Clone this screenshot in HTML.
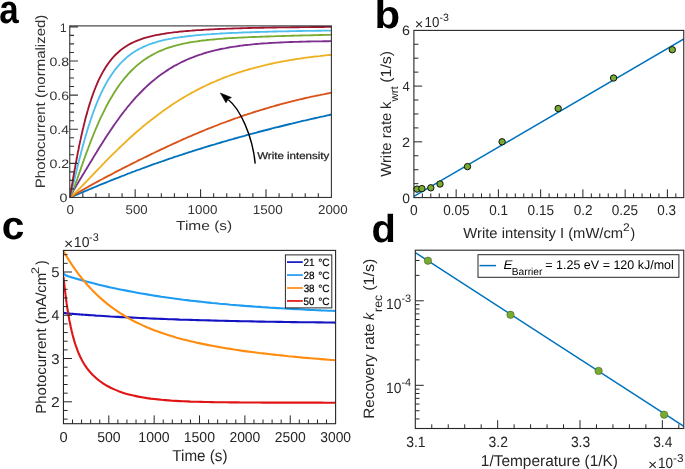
<!DOCTYPE html>
<html><head><meta charset="utf-8"><title>Figure</title><style>
html,body{margin:0;padding:0;background:#fff;overflow:hidden;}
#fig{width:685px;height:469px;will-change:transform;}
svg{display:block;}
text{font-family:"Liberation Sans",sans-serif;text-rendering:geometricPrecision;}
</style></head><body>
<div id="fig">
<svg width="685" height="469" viewBox="0 0 685 469">
<defs>
<clipPath id="clipa"><rect x="69.75" y="25.9" width="261.65" height="171.55"/></clipPath>
<clipPath id="clipb"><rect x="413.9" y="30.4" width="269.85" height="167.2"/></clipPath>
<clipPath id="clipc"><rect x="63.45" y="250.4" width="272.15" height="173.3"/></clipPath>
<clipPath id="clipd"><rect x="415.3" y="250.2" width="268.45" height="178.3"/></clipPath>
</defs>
<rect width="685" height="469" fill="#fff"/>
<g clip-path="url(#clipa)">
<path d="M69.8,197.4 L70.2,197.3 L70.6,197.1 L71.1,197.0 L71.5,196.8 L71.9,196.6 L72.4,196.4 L72.8,196.3 L73.2,196.1 L73.7,195.9 L74.1,195.7 L74.5,195.5 L75.0,195.4 L75.4,195.2 L75.9,195.0 L76.3,194.8 L76.7,194.6 L77.2,194.5 L77.6,194.3 L78.0,194.1 L78.5,193.9 L78.9,193.7 L79.3,193.6 L79.8,193.4 L80.2,193.2 L80.7,193.0 L81.1,192.8 L81.5,192.6 L82.0,192.5 L82.4,192.3 L82.8,192.1 L83.3,191.9 L83.7,191.7 L84.1,191.5 L84.6,191.4 L85.0,191.2 L85.4,191.0 L85.9,190.8 L86.3,190.6 L86.8,190.4 L87.2,190.3 L87.6,190.1 L88.1,189.9 L88.5,189.7 L88.9,189.5 L89.4,189.3 L89.8,189.2 L90.2,189.0 L90.7,188.8 L91.1,188.6 L91.6,188.4 L92.0,188.3 L92.4,188.1 L92.9,187.9 L93.3,187.7 L93.7,187.5 L94.2,187.3 L94.6,187.2 L95.0,187.0 L95.5,186.8 L95.9,186.6 L96.6,186.4 L98.5,185.5 L100.5,184.7 L102.5,183.9 L104.5,183.1 L106.4,182.3 L108.4,181.5 L110.4,180.7 L112.4,179.9 L114.3,179.1 L116.3,178.3 L118.3,177.6 L120.2,176.8 L122.2,176.0 L124.2,175.3 L126.2,174.5 L128.1,173.7 L130.1,173.0 L132.1,172.2 L134.1,171.5 L136.0,170.7 L138.0,170.0 L140.0,169.3 L142.0,168.5 L143.9,167.8 L145.9,167.1 L147.9,166.4 L149.9,165.7 L151.8,164.9 L153.8,164.2 L155.8,163.5 L157.7,162.8 L159.7,162.2 L161.7,161.5 L163.7,160.8 L165.6,160.1 L167.6,159.4 L169.6,158.7 L171.6,158.1 L173.5,157.4 L175.5,156.7 L177.5,156.1 L179.5,155.4 L181.4,154.8 L183.4,154.1 L185.4,153.5 L187.3,152.8 L189.3,152.2 L191.3,151.6 L193.3,150.9 L195.2,150.3 L197.2,149.7 L199.2,149.1 L201.2,148.5 L203.1,147.9 L205.1,147.2 L207.1,146.6 L209.1,146.0 L211.0,145.4 L213.0,144.8 L215.0,144.3 L216.9,143.7 L218.9,143.1 L220.9,142.5 L222.9,141.9 L224.8,141.3 L226.8,140.8 L228.8,140.2 L230.8,139.6 L232.7,139.1 L234.7,138.5 L236.7,138.0 L238.7,137.4 L240.6,136.9 L242.6,136.3 L244.6,135.8 L246.5,135.2 L248.5,134.7 L250.5,134.1 L252.5,133.6 L254.4,133.1 L256.4,132.6 L258.4,132.0 L260.4,131.5 L262.3,131.0 L264.3,130.5 L266.3,130.0 L268.3,129.5 L270.2,129.0 L272.2,128.4 L274.2,127.9 L276.1,127.4 L278.1,127.0 L280.1,126.5 L282.1,126.0 L284.0,125.5 L286.0,125.0 L288.0,124.5 L290.0,124.0 L291.9,123.6 L293.9,123.1 L295.9,122.6 L297.9,122.1 L299.8,121.7 L301.8,121.2 L303.8,120.7 L305.7,120.3 L307.7,119.8 L309.7,119.4 L311.7,118.9 L313.6,118.5 L315.6,118.0 L317.6,117.6 L319.6,117.1 L321.5,116.7 L323.5,116.3 L325.5,115.8 L327.5,115.4 L329.4,115.0 L331.4,114.5" fill="none" stroke="#0072BD" stroke-width="1.85" stroke-linejoin="round"/>
<path d="M69.8,197.4 L70.2,197.2 L70.6,197.0 L71.1,196.7 L71.5,196.5 L71.9,196.2 L72.4,196.0 L72.8,195.7 L73.2,195.5 L73.7,195.2 L74.1,195.0 L74.5,194.7 L75.0,194.4 L75.4,194.2 L75.9,193.9 L76.3,193.7 L76.7,193.4 L77.2,193.2 L77.6,192.9 L78.0,192.6 L78.5,192.4 L78.9,192.1 L79.3,191.9 L79.8,191.6 L80.2,191.4 L80.7,191.1 L81.1,190.8 L81.5,190.6 L82.0,190.3 L82.4,190.1 L82.8,189.8 L83.3,189.6 L83.7,189.3 L84.1,189.1 L84.6,188.8 L85.0,188.6 L85.4,188.3 L85.9,188.1 L86.3,187.8 L86.8,187.6 L87.2,187.3 L87.6,187.1 L88.1,186.9 L88.5,186.6 L88.9,186.4 L89.4,186.1 L89.8,185.9 L90.2,185.6 L90.7,185.4 L91.1,185.1 L91.6,184.9 L92.0,184.7 L92.4,184.4 L92.9,184.2 L93.3,183.9 L93.7,183.7 L94.2,183.5 L94.6,183.2 L95.0,183.0 L95.5,182.7 L95.9,182.5 L96.6,182.1 L98.5,181.1 L100.5,180.0 L102.5,179.0 L104.5,177.9 L106.4,176.9 L108.4,175.8 L110.4,174.8 L112.4,173.8 L114.3,172.7 L116.3,171.7 L118.3,170.7 L120.2,169.7 L122.2,168.7 L124.2,167.7 L126.2,166.7 L128.1,165.7 L130.1,164.7 L132.1,163.7 L134.1,162.7 L136.0,161.7 L138.0,160.7 L140.0,159.7 L142.0,158.8 L143.9,157.8 L145.9,156.8 L147.9,155.8 L149.9,154.9 L151.8,153.9 L153.8,153.0 L155.8,152.0 L157.7,151.1 L159.7,150.1 L161.7,149.2 L163.7,148.3 L165.6,147.4 L167.6,146.4 L169.6,145.5 L171.6,144.6 L173.5,143.7 L175.5,142.8 L177.5,141.9 L179.5,141.0 L181.4,140.1 L183.4,139.2 L185.4,138.4 L187.3,137.5 L189.3,136.6 L191.3,135.8 L193.3,134.9 L195.2,134.1 L197.2,133.3 L199.2,132.4 L201.2,131.6 L203.1,130.8 L205.1,130.0 L207.1,129.2 L209.1,128.4 L211.0,127.6 L213.0,126.8 L215.0,126.0 L216.9,125.3 L218.9,124.5 L220.9,123.7 L222.9,123.0 L224.8,122.3 L226.8,121.5 L228.8,120.8 L230.8,120.1 L232.7,119.4 L234.7,118.7 L236.7,118.0 L238.7,117.3 L240.6,116.6 L242.6,115.9 L244.6,115.2 L246.5,114.6 L248.5,113.9 L250.5,113.3 L252.5,112.6 L254.4,112.0 L256.4,111.4 L258.4,110.8 L260.4,110.2 L262.3,109.6 L264.3,109.0 L266.3,108.4 L268.3,107.8 L270.2,107.2 L272.2,106.6 L274.2,106.1 L276.1,105.5 L278.1,105.0 L280.1,104.4 L282.1,103.9 L284.0,103.4 L286.0,102.9 L288.0,102.4 L290.0,101.9 L291.9,101.4 L293.9,100.9 L295.9,100.4 L297.9,99.9 L299.8,99.4 L301.8,99.0 L303.8,98.5 L305.7,98.0 L307.7,97.6 L309.7,97.2 L311.7,96.7 L313.6,96.3 L315.6,95.9 L317.6,95.5 L319.6,95.1 L321.5,94.6 L323.5,94.3 L325.5,93.9 L327.5,93.5 L329.4,93.1 L331.4,92.7" fill="none" stroke="#D95319" stroke-width="1.85" stroke-linejoin="round"/>
<path d="M69.8,197.4 L70.2,197.2 L70.6,196.9 L71.1,196.5 L71.5,196.2 L71.9,195.8 L72.4,195.4 L72.8,195.0 L73.2,194.6 L73.7,194.3 L74.1,193.9 L74.5,193.4 L75.0,193.0 L75.4,192.6 L75.9,192.2 L76.3,191.8 L76.7,191.4 L77.2,190.9 L77.6,190.5 L78.0,190.1 L78.5,189.6 L78.9,189.2 L79.3,188.8 L79.8,188.3 L80.2,187.9 L80.7,187.4 L81.1,187.0 L81.5,186.5 L82.0,186.1 L82.4,185.7 L82.8,185.2 L83.3,184.8 L83.7,184.3 L84.1,183.9 L84.6,183.4 L85.0,182.9 L85.4,182.5 L85.9,182.0 L86.3,181.6 L86.8,181.1 L87.2,180.7 L87.6,180.2 L88.1,179.8 L88.5,179.3 L88.9,178.9 L89.4,178.4 L89.8,177.9 L90.2,177.5 L90.7,177.0 L91.1,176.6 L91.6,176.1 L92.0,175.7 L92.4,175.2 L92.9,174.7 L93.3,174.3 L93.7,173.8 L94.2,173.4 L94.6,172.9 L95.0,172.5 L95.5,172.0 L95.9,171.5 L96.6,170.9 L98.5,168.8 L100.5,166.8 L102.5,164.7 L104.5,162.7 L106.4,160.7 L108.4,158.7 L110.4,156.7 L112.4,154.7 L114.3,152.8 L116.3,150.8 L118.3,148.9 L120.2,147.0 L122.2,145.1 L124.2,143.3 L126.2,141.4 L128.1,139.6 L130.1,137.8 L132.1,136.0 L134.1,134.2 L136.0,132.5 L138.0,130.8 L140.0,129.1 L142.0,127.4 L143.9,125.8 L145.9,124.1 L147.9,122.5 L149.9,121.0 L151.8,119.4 L153.8,117.9 L155.8,116.4 L157.7,114.9 L159.7,113.4 L161.7,112.0 L163.7,110.5 L165.6,109.2 L167.6,107.8 L169.6,106.4 L171.6,105.1 L173.5,103.8 L175.5,102.5 L177.5,101.3 L179.5,100.0 L181.4,98.8 L183.4,97.6 L185.4,96.5 L187.3,95.3 L189.3,94.2 L191.3,93.1 L193.3,92.0 L195.2,91.0 L197.2,89.9 L199.2,88.9 L201.2,87.9 L203.1,86.9 L205.1,86.0 L207.1,85.0 L209.1,84.1 L211.0,83.2 L213.0,82.3 L215.0,81.5 L216.9,80.6 L218.9,79.8 L220.9,79.0 L222.9,78.2 L224.8,77.4 L226.8,76.7 L228.8,76.0 L230.8,75.2 L232.7,74.5 L234.7,73.9 L236.7,73.2 L238.7,72.5 L240.6,71.9 L242.6,71.3 L244.6,70.7 L246.5,70.1 L248.5,69.5 L250.5,68.9 L252.5,68.4 L254.4,67.8 L256.4,67.3 L258.4,66.8 L260.4,66.3 L262.3,65.8 L264.3,65.3 L266.3,64.9 L268.3,64.4 L270.2,64.0 L272.2,63.5 L274.2,63.1 L276.1,62.7 L278.1,62.3 L280.1,61.9 L282.1,61.5 L284.0,61.2 L286.0,60.8 L288.0,60.5 L290.0,60.1 L291.9,59.8 L293.9,59.5 L295.9,59.2 L297.9,58.9 L299.8,58.6 L301.8,58.3 L303.8,58.0 L305.7,57.7 L307.7,57.5 L309.7,57.2 L311.7,57.0 L313.6,56.7 L315.6,56.5 L317.6,56.3 L319.6,56.1 L321.5,55.8 L323.5,55.6 L325.5,55.4 L327.5,55.2 L329.4,55.0 L331.4,54.8" fill="none" stroke="#EDB120" stroke-width="1.85" stroke-linejoin="round"/>
<path d="M69.8,197.4 L70.2,196.7 L70.6,195.9 L71.1,195.0 L71.5,194.2 L71.9,193.4 L72.4,192.6 L72.8,191.8 L73.2,191.0 L73.7,190.2 L74.1,189.5 L74.5,188.7 L75.0,187.9 L75.4,187.2 L75.9,186.4 L76.3,185.7 L76.7,184.9 L77.2,184.2 L77.6,183.5 L78.0,182.8 L78.5,182.0 L78.9,181.3 L79.3,180.6 L79.8,179.9 L80.2,179.1 L80.7,178.4 L81.1,177.7 L81.5,177.0 L82.0,176.3 L82.4,175.5 L82.8,174.8 L83.3,174.1 L83.7,173.4 L84.1,172.7 L84.6,172.0 L85.0,171.2 L85.4,170.5 L85.9,169.8 L86.3,169.1 L86.8,168.4 L87.2,167.6 L87.6,166.9 L88.1,166.2 L88.5,165.5 L88.9,164.8 L89.4,164.0 L89.8,163.3 L90.2,162.6 L90.7,161.9 L91.1,161.2 L91.6,160.5 L92.0,159.7 L92.4,159.0 L92.9,158.3 L93.3,157.6 L93.7,156.9 L94.2,156.1 L94.6,155.4 L95.0,154.7 L95.5,154.0 L95.9,153.3 L96.6,152.2 L98.5,149.0 L100.5,145.8 L102.5,142.7 L104.5,139.6 L106.4,136.5 L108.4,133.5 L110.4,130.5 L112.4,127.6 L114.3,124.8 L116.3,122.0 L118.3,119.2 L120.2,116.5 L122.2,113.9 L124.2,111.3 L126.2,108.8 L128.1,106.3 L130.1,104.0 L132.1,101.6 L134.1,99.4 L136.0,97.2 L138.0,95.1 L140.0,93.0 L142.0,91.0 L143.9,89.0 L145.9,87.1 L147.9,85.3 L149.9,83.5 L151.8,81.8 L153.8,80.2 L155.8,78.6 L157.7,77.0 L159.7,75.5 L161.7,74.1 L163.7,72.7 L165.6,71.4 L167.6,70.1 L169.6,68.8 L171.6,67.6 L173.5,66.4 L175.5,65.3 L177.5,64.3 L179.5,63.2 L181.4,62.2 L183.4,61.3 L185.4,60.4 L187.3,59.5 L189.3,58.6 L191.3,57.8 L193.3,57.1 L195.2,56.3 L197.2,55.6 L199.2,54.9 L201.2,54.3 L203.1,53.6 L205.1,53.0 L207.1,52.4 L209.1,51.9 L211.0,51.4 L213.0,50.9 L215.0,50.4 L216.9,49.9 L218.9,49.5 L220.9,49.0 L222.9,48.6 L224.8,48.3 L226.8,47.9 L228.8,47.5 L230.8,47.2 L232.7,46.9 L234.7,46.6 L236.7,46.3 L238.7,46.0 L240.6,45.7 L242.6,45.5 L244.6,45.2 L246.5,45.0 L248.5,44.8 L250.5,44.6 L252.5,44.4 L254.4,44.2 L256.4,44.0 L258.4,43.9 L260.4,43.7 L262.3,43.5 L264.3,43.4 L266.3,43.3 L268.3,43.1 L270.2,43.0 L272.2,42.9 L274.2,42.8 L276.1,42.7 L278.1,42.6 L280.1,42.5 L282.1,42.4 L284.0,42.3 L286.0,42.2 L288.0,42.1 L290.0,42.0 L291.9,42.0 L293.9,41.9 L295.9,41.8 L297.9,41.8 L299.8,41.7 L301.8,41.7 L303.8,41.6 L305.7,41.6 L307.7,41.5 L309.7,41.5 L311.7,41.4 L313.6,41.4 L315.6,41.4 L317.6,41.3 L319.6,41.3 L321.5,41.3 L323.5,41.2 L325.5,41.2 L327.5,41.2 L329.4,41.2 L331.4,41.1" fill="none" stroke="#7E2F8E" stroke-width="1.85" stroke-linejoin="round"/>
<path d="M69.8,197.4 L70.2,196.8 L70.6,196.0 L71.1,195.1 L71.5,194.1 L71.9,193.1 L72.4,192.0 L72.8,190.9 L73.2,189.8 L73.7,188.7 L74.1,187.5 L74.5,186.3 L75.0,185.1 L75.4,183.9 L75.9,182.7 L76.3,181.5 L76.7,180.3 L77.2,179.0 L77.6,177.8 L78.0,176.6 L78.5,175.3 L78.9,174.1 L79.3,172.8 L79.8,171.6 L80.2,170.4 L80.7,169.1 L81.1,167.9 L81.5,166.6 L82.0,165.4 L82.4,164.2 L82.8,162.9 L83.3,161.7 L83.7,160.5 L84.1,159.2 L84.6,158.0 L85.0,156.8 L85.4,155.6 L85.9,154.4 L86.3,153.2 L86.8,152.0 L87.2,150.8 L87.6,149.7 L88.1,148.5 L88.5,147.3 L88.9,146.2 L89.4,145.0 L89.8,143.9 L90.2,142.7 L90.7,141.6 L91.1,140.5 L91.6,139.4 L92.0,138.3 L92.4,137.2 L92.9,136.1 L93.3,135.0 L93.7,133.9 L94.2,132.9 L94.6,131.8 L95.0,130.7 L95.5,129.7 L95.9,128.7 L96.6,127.1 L98.5,122.6 L100.5,118.2 L102.5,114.1 L104.5,110.1 L106.4,106.2 L108.4,102.5 L110.4,99.0 L112.4,95.7 L114.3,92.5 L116.3,89.4 L118.3,86.5 L120.2,83.8 L122.2,81.2 L124.2,78.7 L126.2,76.3 L128.1,74.1 L130.1,72.0 L132.1,70.0 L134.1,68.1 L136.0,66.3 L138.0,64.6 L140.0,63.0 L142.0,61.4 L143.9,60.0 L145.9,58.7 L147.9,57.4 L149.9,56.2 L151.8,55.1 L153.8,54.0 L155.8,53.0 L157.7,52.0 L159.7,51.1 L161.7,50.3 L163.7,49.5 L165.6,48.7 L167.6,48.0 L169.6,47.4 L171.6,46.8 L173.5,46.2 L175.5,45.6 L177.5,45.1 L179.5,44.6 L181.4,44.1 L183.4,43.7 L185.4,43.3 L187.3,42.9 L189.3,42.5 L191.3,42.2 L193.3,41.9 L195.2,41.6 L197.2,41.3 L199.2,41.0 L201.2,40.7 L203.1,40.5 L205.1,40.3 L207.1,40.0 L209.1,39.8 L211.0,39.6 L213.0,39.5 L215.0,39.3 L216.9,39.1 L218.9,38.9 L220.9,38.8 L222.9,38.6 L224.8,38.5 L226.8,38.4 L228.8,38.2 L230.8,38.1 L232.7,38.0 L234.7,37.9 L236.7,37.8 L238.7,37.7 L240.6,37.6 L242.6,37.5 L244.6,37.4 L246.5,37.3 L248.5,37.2 L250.5,37.1 L252.5,37.0 L254.4,37.0 L256.4,36.9 L258.4,36.8 L260.4,36.7 L262.3,36.7 L264.3,36.6 L266.3,36.5 L268.3,36.5 L270.2,36.4 L272.2,36.3 L274.2,36.3 L276.1,36.2 L278.1,36.1 L280.1,36.1 L282.1,36.0 L284.0,36.0 L286.0,35.9 L288.0,35.8 L290.0,35.8 L291.9,35.7 L293.9,35.7 L295.9,35.6 L297.9,35.6 L299.8,35.5 L301.8,35.5 L303.8,35.4 L305.7,35.4 L307.7,35.3 L309.7,35.3 L311.7,35.2 L313.6,35.2 L315.6,35.1 L317.6,35.1 L319.6,35.0 L321.5,35.0 L323.5,34.9 L325.5,34.9 L327.5,34.8 L329.4,34.8 L331.4,34.7" fill="none" stroke="#77AC30" stroke-width="1.85" stroke-linejoin="round"/>
<path d="M69.8,197.4 L70.2,196.2 L70.6,194.7 L71.1,193.1 L71.5,191.4 L71.9,189.7 L72.4,187.9 L72.8,186.1 L73.2,184.3 L73.7,182.5 L74.1,180.7 L74.5,178.9 L75.0,177.1 L75.4,175.3 L75.9,173.5 L76.3,171.7 L76.7,169.9 L77.2,168.1 L77.6,166.3 L78.0,164.6 L78.5,162.8 L78.9,161.1 L79.3,159.3 L79.8,157.6 L80.2,155.9 L80.7,154.2 L81.1,152.5 L81.5,150.9 L82.0,149.2 L82.4,147.6 L82.8,146.0 L83.3,144.4 L83.7,142.8 L84.1,141.2 L84.6,139.7 L85.0,138.2 L85.4,136.6 L85.9,135.1 L86.3,133.7 L86.8,132.2 L87.2,130.8 L87.6,129.3 L88.1,127.9 L88.5,126.5 L88.9,125.1 L89.4,123.8 L89.8,122.4 L90.2,121.1 L90.7,119.8 L91.1,118.5 L91.6,117.2 L92.0,116.0 L92.4,114.7 L92.9,113.5 L93.3,112.3 L93.7,111.1 L94.2,109.9 L94.6,108.8 L95.0,107.6 L95.5,106.5 L95.9,105.4 L96.6,103.7 L98.5,99.0 L100.5,94.6 L102.5,90.4 L104.5,86.5 L106.4,82.9 L108.4,79.5 L110.4,76.4 L112.4,73.5 L114.3,70.7 L116.3,68.2 L118.3,65.8 L120.2,63.6 L122.2,61.6 L124.2,59.7 L126.2,57.9 L128.1,56.3 L130.1,54.7 L132.1,53.3 L134.1,52.0 L136.0,50.8 L138.0,49.6 L140.0,48.5 L142.0,47.6 L143.9,46.6 L145.9,45.8 L147.9,45.0 L149.9,44.2 L151.8,43.5 L153.8,42.9 L155.8,42.3 L157.7,41.7 L159.7,41.2 L161.7,40.7 L163.7,40.2 L165.6,39.7 L167.6,39.3 L169.6,38.9 L171.6,38.6 L173.5,38.2 L175.5,37.9 L177.5,37.6 L179.5,37.3 L181.4,37.0 L183.4,36.8 L185.4,36.5 L187.3,36.3 L189.3,36.0 L191.3,35.8 L193.3,35.6 L195.2,35.4 L197.2,35.2 L199.2,35.1 L201.2,34.9 L203.1,34.7 L205.1,34.6 L207.1,34.4 L209.1,34.3 L211.0,34.2 L213.0,34.0 L215.0,33.9 L216.9,33.8 L218.9,33.7 L220.9,33.5 L222.9,33.4 L224.8,33.3 L226.8,33.2 L228.8,33.1 L230.8,33.0 L232.7,32.9 L234.7,32.8 L236.7,32.8 L238.7,32.7 L240.6,32.6 L242.6,32.5 L244.6,32.4 L246.5,32.4 L248.5,32.3 L250.5,32.2 L252.5,32.2 L254.4,32.1 L256.4,32.0 L258.4,32.0 L260.4,31.9 L262.3,31.8 L264.3,31.8 L266.3,31.7 L268.3,31.7 L270.2,31.6 L272.2,31.6 L274.2,31.5 L276.1,31.5 L278.1,31.4 L280.1,31.4 L282.1,31.3 L284.0,31.3 L286.0,31.3 L288.0,31.2 L290.0,31.2 L291.9,31.1 L293.9,31.1 L295.9,31.1 L297.9,31.0 L299.8,31.0 L301.8,31.0 L303.8,30.9 L305.7,30.9 L307.7,30.9 L309.7,30.8 L311.7,30.8 L313.6,30.8 L315.6,30.8 L317.6,30.7 L319.6,30.7 L321.5,30.7 L323.5,30.6 L325.5,30.6 L327.5,30.6 L329.4,30.6 L331.4,30.6" fill="none" stroke="#4DBEEE" stroke-width="1.85" stroke-linejoin="round"/>
<path d="M69.8,197.4 L70.2,195.3 L70.6,192.9 L71.1,190.4 L71.5,187.9 L71.9,185.4 L72.4,182.8 L72.8,180.3 L73.2,177.8 L73.7,175.3 L74.1,172.8 L74.5,170.4 L75.0,167.9 L75.4,165.5 L75.9,163.1 L76.3,160.8 L76.7,158.5 L77.2,156.2 L77.6,153.9 L78.0,151.7 L78.5,149.5 L78.9,147.3 L79.3,145.2 L79.8,143.1 L80.2,141.1 L80.7,139.0 L81.1,137.0 L81.5,135.1 L82.0,133.1 L82.4,131.2 L82.8,129.4 L83.3,127.5 L83.7,125.7 L84.1,123.9 L84.6,122.2 L85.0,120.5 L85.4,118.8 L85.9,117.1 L86.3,115.5 L86.8,113.9 L87.2,112.4 L87.6,110.8 L88.1,109.3 L88.5,107.8 L88.9,106.4 L89.4,104.9 L89.8,103.5 L90.2,102.2 L90.7,100.8 L91.1,99.5 L91.6,98.2 L92.0,96.9 L92.4,95.7 L92.9,94.4 L93.3,93.2 L93.7,92.1 L94.2,90.9 L94.6,89.8 L95.0,88.7 L95.5,87.6 L95.9,86.5 L96.6,84.9 L98.5,80.4 L100.5,76.4 L102.5,72.6 L104.5,69.2 L106.4,66.1 L108.4,63.2 L110.4,60.6 L112.4,58.2 L114.3,56.0 L116.3,54.0 L118.3,52.2 L120.2,50.5 L122.2,48.9 L124.2,47.5 L126.2,46.2 L128.1,45.0 L130.1,43.9 L132.1,42.9 L134.1,42.0 L136.0,41.1 L138.0,40.3 L140.0,39.6 L142.0,38.9 L143.9,38.2 L145.9,37.6 L147.9,37.1 L149.9,36.6 L151.8,36.1 L153.8,35.7 L155.8,35.2 L157.7,34.8 L159.7,34.5 L161.7,34.1 L163.7,33.8 L165.6,33.5 L167.6,33.2 L169.6,32.9 L171.6,32.7 L173.5,32.4 L175.5,32.2 L177.5,32.0 L179.5,31.7 L181.4,31.5 L183.4,31.4 L185.4,31.2 L187.3,31.0 L189.3,30.8 L191.3,30.7 L193.3,30.5 L195.2,30.4 L197.2,30.2 L199.2,30.1 L201.2,30.0 L203.1,29.8 L205.1,29.7 L207.1,29.6 L209.1,29.5 L211.0,29.4 L213.0,29.3 L215.0,29.2 L216.9,29.1 L218.9,29.0 L220.9,28.9 L222.9,28.9 L224.8,28.8 L226.8,28.7 L228.8,28.6 L230.8,28.6 L232.7,28.5 L234.7,28.4 L236.7,28.4 L238.7,28.3 L240.6,28.2 L242.6,28.2 L244.6,28.1 L246.5,28.1 L248.5,28.0 L250.5,28.0 L252.5,27.9 L254.4,27.9 L256.4,27.8 L258.4,27.8 L260.4,27.7 L262.3,27.7 L264.3,27.7 L266.3,27.6 L268.3,27.6 L270.2,27.6 L272.2,27.5 L274.2,27.5 L276.1,27.5 L278.1,27.4 L280.1,27.4 L282.1,27.4 L284.0,27.3 L286.0,27.3 L288.0,27.3 L290.0,27.3 L291.9,27.2 L293.9,27.2 L295.9,27.2 L297.9,27.2 L299.8,27.2 L301.8,27.1 L303.8,27.1 L305.7,27.1 L307.7,27.1 L309.7,27.1 L311.7,27.0 L313.6,27.0 L315.6,27.0 L317.6,27.0 L319.6,27.0 L321.5,27.0 L323.5,27.0 L325.5,26.9 L327.5,26.9 L329.4,26.9 L331.4,26.9" fill="none" stroke="#A2142F" stroke-width="1.85" stroke-linejoin="round"/>
</g>
<rect x="69.75" y="25.9" width="261.65" height="171.55" fill="none" stroke="#333333" stroke-width="1.1"/>
<path d="M82.83,197.45L82.83,193.15 M95.91,197.45L95.91,193.15 M109,197.45L109,193.15 M122.08,197.45L122.08,193.15 M135.16,197.45L135.16,189.25 M148.25,197.45L148.25,193.15 M161.33,197.45L161.33,193.15 M174.41,197.45L174.41,193.15 M187.49,197.45L187.49,193.15 M200.57,197.45L200.57,189.25 M213.66,197.45L213.66,193.15 M226.74,197.45L226.74,193.15 M239.82,197.45L239.82,193.15 M252.9,197.45L252.9,193.15 M265.99,197.45L265.99,189.25 M279.07,197.45L279.07,193.15 M292.15,197.45L292.15,193.15 M305.23,197.45L305.23,193.15 M318.32,197.45L318.32,193.15 M69.75,188.92L74.05,188.92 M69.75,180.39L74.05,180.39 M69.75,171.86L74.05,171.86 M69.75,163.33L77.95,163.33 M69.75,154.8L74.05,154.8 M69.75,146.27L74.05,146.27 M69.75,137.74L74.05,137.74 M69.75,129.21L77.95,129.21 M69.75,120.68L74.05,120.68 M69.75,112.15L74.05,112.15 M69.75,103.62L74.05,103.62 M69.75,95.09L77.95,95.09 M69.75,86.56L74.05,86.56 M69.75,78.03L74.05,78.03 M69.75,69.5L74.05,69.5 M69.75,60.97L77.95,60.97 M69.75,52.44L74.05,52.44 M69.75,43.91L74.05,43.91 M69.75,35.38L74.05,35.38 M69.75,26.85L77.95,26.85" stroke="#333333" stroke-width="1.1" fill="none"/>
<text transform="translate(59.53,202.35) scale(1.158,1)" style="font-size:12.3px;fill:#333333">0</text>
<text transform="translate(49.53,168.23) scale(1.151,1)" style="font-size:12.3px;fill:#333333">0.2</text>
<text transform="translate(49.54,134.11) scale(1.131,1)" style="font-size:12.3px;fill:#333333">0.4</text>
<text transform="translate(49.54,99.99) scale(1.144,1)" style="font-size:12.3px;fill:#333333">0.6</text>
<text transform="translate(49.54,65.87) scale(1.144,1)" style="font-size:12.3px;fill:#333333">0.8</text>
<text transform="translate(60.02,31.75) scale(0.959,1)" style="font-size:12.3px;fill:#333333">1</text>
<text transform="translate(66.46,213.7) scale(1.047,1)" style="font-size:12.8px;fill:#333333">0</text>
<text transform="translate(125.57,213.7) scale(1.032,1)" style="font-size:12.8px;fill:#333333">500</text>
<text transform="translate(187.59,213.7) scale(1.048,1)" style="font-size:12.8px;fill:#333333">1000</text>
<text transform="translate(252.64,213.7) scale(1.055,1)" style="font-size:12.8px;fill:#333333">1500</text>
<text transform="translate(317.98,213.7) scale(1.043,1)" style="font-size:12.8px;fill:#333333">2000</text>
<text transform="translate(176.05,229.9) scale(1.191,1)" style="font-size:13px;fill:#333333">Time (s)</text>
<text transform="translate(45,188.14) rotate(-90) scale(1.104,1)" style="font-size:13.6px;fill:#333333">Photocurrent (normalized)</text>
<text transform="translate(257.14,159) scale(1.166,1)" style="font-size:9.9px;fill:#222;stroke:#222;stroke-width:0.25">Write intensity</text>
<path d="M255.2,163.6 C252.6,135.5 239.6,108.4 228.4,99.7" fill="none" stroke="#000" stroke-width="1.4"/>
<path d="M220.4,93.1 L231.4,97.5 L228.1,99.2 L226,102.8 Z" fill="#000" stroke="#000" stroke-width="0.6" stroke-linejoin="round"/>
<text transform="translate(-0.75,22.9) scale(0.873,1)" style="font-size:40px;font-weight:bold;fill:#000">a</text>
<g clip-path="url(#clipb)">
<line x1="413.9" y1="196.4" x2="684.3" y2="38.68" stroke="#0072BD" stroke-width="1.5"/>
</g>
<rect x="413.9" y="30.4" width="269.85" height="167.2" fill="none" stroke="#262626" stroke-width="1.1"/>
<path d="M422.35,197.6L422.35,193.4 M430.8,197.6L430.8,193.4 M439.25,197.6L439.25,193.4 M447.7,197.6L447.7,193.4 M456.15,197.6L456.15,189.3 M464.6,197.6L464.6,193.4 M473.05,197.6L473.05,193.4 M481.5,197.6L481.5,193.4 M489.95,197.6L489.95,193.4 M498.4,197.6L498.4,189.3 M506.85,197.6L506.85,193.4 M515.3,197.6L515.3,193.4 M523.75,197.6L523.75,193.4 M532.2,197.6L532.2,193.4 M540.65,197.6L540.65,189.3 M549.1,197.6L549.1,193.4 M557.55,197.6L557.55,193.4 M566,197.6L566,193.4 M574.45,197.6L574.45,193.4 M582.9,197.6L582.9,189.3 M591.35,197.6L591.35,193.4 M599.8,197.6L599.8,193.4 M608.25,197.6L608.25,193.4 M616.7,197.6L616.7,193.4 M625.15,197.6L625.15,189.3 M633.6,197.6L633.6,193.4 M642.05,197.6L642.05,193.4 M650.5,197.6L650.5,193.4 M658.95,197.6L658.95,193.4 M667.4,197.6L667.4,189.3 M675.85,197.6L675.85,193.4 M413.9,183.66L418.4,183.66 M413.9,169.72L418.4,169.72 M413.9,155.78L418.4,155.78 M413.9,141.84L422.2,141.84 M413.9,127.9L418.4,127.9 M413.9,113.96L418.4,113.96 M413.9,100.02L418.4,100.02 M413.9,86.08L422.2,86.08 M413.9,72.14L418.4,72.14 M413.9,58.2L418.4,58.2 M413.9,44.26L418.4,44.26" stroke="#262626" stroke-width="1.0" fill="none"/>
<circle cx="417.05" cy="189.1" r="3.2" fill="#77AC30" stroke="#111" stroke-width="1.0"/>
<circle cx="421.9" cy="188.6" r="3.2" fill="#77AC30" stroke="#111" stroke-width="1.0"/>
<circle cx="430.8" cy="187.8" r="3.2" fill="#77AC30" stroke="#111" stroke-width="1.0"/>
<circle cx="440.0" cy="184.0" r="3.2" fill="#77AC30" stroke="#111" stroke-width="1.0"/>
<circle cx="467.5" cy="166.6" r="3.2" fill="#77AC30" stroke="#111" stroke-width="1.0"/>
<circle cx="502.1" cy="141.8" r="3.2" fill="#77AC30" stroke="#111" stroke-width="1.0"/>
<circle cx="558.2" cy="108.5" r="3.2" fill="#77AC30" stroke="#111" stroke-width="1.0"/>
<circle cx="613.6" cy="78.0" r="3.2" fill="#77AC30" stroke="#111" stroke-width="1.0"/>
<circle cx="672.3" cy="49.7" r="3.2" fill="#77AC30" stroke="#111" stroke-width="1.0"/>
<text transform="translate(402.25,202.7) scale(1.024,1)" style="font-size:13.5px;fill:#262626">0</text>
<text transform="translate(402.07,146.94) scale(1.074,1)" style="font-size:13.5px;fill:#262626">2</text>
<text transform="translate(402.51,91.18) scale(0.968,1)" style="font-size:13.5px;fill:#262626">4</text>
<text transform="translate(402.09,35.42) scale(1.057,1)" style="font-size:13.5px;fill:#262626">6</text>
<text transform="translate(410.05,215.4) scale(0.973,1)" style="font-size:14.2px;fill:#262626">0</text>
<text transform="translate(443.21,215.4) scale(0.955,1)" style="font-size:14.2px;fill:#262626">0.05</text>
<text transform="translate(489.16,215.4) scale(0.952,1)" style="font-size:14.2px;fill:#262626">0.1</text>
<text transform="translate(527.61,215.4) scale(0.955,1)" style="font-size:14.2px;fill:#262626">0.15</text>
<text transform="translate(573.66,215.4) scale(0.953,1)" style="font-size:14.2px;fill:#262626">0.2</text>
<text transform="translate(611.66,215.4) scale(0.959,1)" style="font-size:14.2px;fill:#262626">0.25</text>
<text transform="translate(657.36,215.4) scale(0.948,1)" style="font-size:14.2px;fill:#262626">0.3</text>
<text transform="translate(414.76,28.6) scale(1.044,1)" style="font-size:14.2px;fill:#262626">×</text>
<text transform="translate(424.6,27.3) scale(0.926,1)" style="font-size:14.4px;fill:#262626">10</text>
<text transform="translate(439.42,20.7)" style="font-size:10.6px;fill:#262626">-3</text>
<text transform="translate(463.33,237.8) scale(1.019,1)" style="font-size:14.5px;fill:#262626">Write intensity I (mW/cm</text>
<text transform="translate(623,230.8) scale(1.099,1)" style="font-size:11px;fill:#262626">2</text>
<text transform="translate(630.4,237.8) scale(0.963,1)" style="font-size:14.5px;fill:#262626">)</text>
<text transform="translate(390.8,176.87) rotate(-90) scale(1.012,1)" style="font-size:14.7px;fill:#262626">Write rate</text>
<text transform="translate(390.8,109) rotate(-90) scale(1.007,1)" style="font-size:14.7px;fill:#262626">k</text>
<text transform="translate(397.8,101.57) rotate(-90) scale(1.048,1)" style="font-size:11px;fill:#262626">wrt</text>
<text transform="translate(390.8,82.7) rotate(-90) scale(1.083,1)" style="font-size:14.7px;fill:#262626">(1/s)</text>
<text transform="translate(374.57,27.5) scale(1.076,1)" style="font-size:39px;font-weight:bold;fill:#000">b</text>
<g clip-path="url(#clipc)">
<path d="M63.5,312.5 L63.9,312.7 L64.4,312.9 L64.8,313.0 L65.3,313.1 L65.7,313.2 L66.2,313.3 L66.6,313.3 L67.1,313.4 L67.5,313.4 L68.0,313.5 L68.4,313.5 L68.9,313.6 L69.3,313.6 L69.8,313.6 L70.3,313.7 L70.7,313.7 L71.2,313.8 L71.6,313.8 L72.1,313.8 L72.5,313.9 L73.0,313.9 L73.4,313.9 L73.9,314.0 L74.3,314.0 L74.8,314.0 L75.2,314.1 L75.7,314.1 L76.2,314.1 L76.6,314.2 L77.1,314.2 L77.5,314.3 L78.0,314.3 L78.4,314.3 L78.9,314.4 L79.3,314.4 L79.8,314.4 L80.2,314.5 L80.7,314.5 L81.1,314.5 L81.6,314.6 L82.0,314.6 L82.5,314.6 L83.0,314.7 L83.4,314.7 L83.9,314.7 L84.3,314.8 L84.8,314.8 L85.2,314.8 L85.7,314.9 L86.1,314.9 L86.6,314.9 L87.0,314.9 L87.5,315.0 L87.9,315.0 L88.4,315.0 L88.9,315.1 L89.3,315.1 L89.8,315.1 L90.2,315.2 L90.7,315.2 L92.5,315.3 L96.1,315.6 L99.7,315.8 L103.4,316.0 L107.0,316.2 L110.6,316.5 L114.3,316.7 L117.9,316.9 L121.5,317.1 L125.1,317.3 L128.8,317.4 L132.4,317.6 L136.0,317.8 L139.7,318.0 L143.3,318.1 L146.9,318.3 L150.5,318.5 L154.2,318.6 L157.8,318.8 L161.4,318.9 L165.1,319.0 L168.7,319.2 L172.3,319.3 L175.9,319.4 L179.6,319.6 L183.2,319.7 L186.8,319.8 L190.5,319.9 L194.1,320.0 L197.7,320.1 L201.3,320.2 L205.0,320.3 L208.6,320.4 L212.2,320.5 L215.9,320.6 L219.5,320.7 L223.1,320.8 L226.7,320.9 L230.4,321.0 L234.0,321.0 L237.6,321.1 L241.3,321.2 L244.9,321.3 L248.5,321.3 L252.1,321.4 L255.8,321.5 L259.4,321.6 L263.0,321.6 L266.7,321.7 L270.3,321.7 L273.9,321.8 L277.5,321.9 L281.2,321.9 L284.8,322.0 L288.4,322.0 L292.1,322.1 L295.7,322.1 L299.3,322.2 L302.9,322.2 L306.6,322.3 L310.2,322.3 L313.8,322.3 L317.5,322.4 L321.1,322.4 L324.7,322.5 L328.3,322.5 L332.0,322.5 L335.6,322.6" fill="none" stroke="#1414C4" stroke-width="2.1" stroke-linejoin="round"/>
<path d="M63.5,273.3 L63.9,273.9 L64.4,274.3 L64.8,274.7 L65.3,275.0 L65.7,275.2 L66.2,275.5 L66.6,275.7 L67.1,275.8 L67.5,276.0 L68.0,276.2 L68.4,276.3 L68.9,276.5 L69.3,276.6 L69.8,276.8 L70.3,276.9 L70.7,277.1 L71.2,277.2 L71.6,277.3 L72.1,277.5 L72.5,277.6 L73.0,277.7 L73.4,277.9 L73.9,278.0 L74.3,278.1 L74.8,278.3 L75.2,278.4 L75.7,278.5 L76.2,278.7 L76.6,278.8 L77.1,278.9 L77.5,279.1 L78.0,279.2 L78.4,279.3 L78.9,279.4 L79.3,279.6 L79.8,279.7 L80.2,279.8 L80.7,280.0 L81.1,280.1 L81.6,280.2 L82.0,280.3 L82.5,280.5 L83.0,280.6 L83.4,280.7 L83.9,280.8 L84.3,281.0 L84.8,281.1 L85.2,281.2 L85.7,281.3 L86.1,281.4 L86.6,281.6 L87.0,281.7 L87.5,281.8 L87.9,281.9 L88.4,282.0 L88.9,282.2 L89.3,282.3 L89.8,282.4 L90.2,282.5 L90.7,282.6 L92.5,283.1 L96.1,284.0 L99.7,284.9 L103.4,285.8 L107.0,286.6 L110.6,287.4 L114.3,288.2 L117.9,289.0 L121.5,289.7 L125.1,290.4 L128.8,291.1 L132.4,291.8 L136.0,292.5 L139.7,293.2 L143.3,293.8 L146.9,294.4 L150.5,295.0 L154.2,295.6 L157.8,296.1 L161.4,296.7 L165.1,297.2 L168.7,297.7 L172.3,298.2 L175.9,298.7 L179.6,299.2 L183.2,299.7 L186.8,300.1 L190.5,300.6 L194.1,301.0 L197.7,301.4 L201.3,301.8 L205.0,302.2 L208.6,302.6 L212.2,303.0 L215.9,303.3 L219.5,303.7 L223.1,304.0 L226.7,304.3 L230.4,304.7 L234.0,305.0 L237.6,305.3 L241.3,305.6 L244.9,305.9 L248.5,306.1 L252.1,306.4 L255.8,306.7 L259.4,306.9 L263.0,307.2 L266.7,307.4 L270.3,307.7 L273.9,307.9 L277.5,308.1 L281.2,308.3 L284.8,308.5 L288.4,308.7 L292.1,308.9 L295.7,309.1 L299.3,309.3 L302.9,309.5 L306.6,309.7 L310.2,309.9 L313.8,310.0 L317.5,310.2 L321.1,310.4 L324.7,310.5 L328.3,310.7 L332.0,310.8 L335.6,311.0" fill="none" stroke="#1E9CF2" stroke-width="2.1" stroke-linejoin="round"/>
<path d="M63.5,251.1 L63.9,251.9 L64.4,252.7 L64.8,253.4 L65.3,254.2 L65.7,255.0 L66.2,255.7 L66.6,256.5 L67.1,257.2 L67.5,257.9 L68.0,258.7 L68.4,259.4 L68.9,260.1 L69.3,260.8 L69.8,261.5 L70.3,262.2 L70.7,262.9 L71.2,263.6 L71.6,264.3 L72.1,265.0 L72.5,265.6 L73.0,266.3 L73.4,267.0 L73.9,267.6 L74.3,268.3 L74.8,268.9 L75.2,269.6 L75.7,270.2 L76.2,270.8 L76.6,271.4 L77.1,272.1 L77.5,272.7 L78.0,273.3 L78.4,273.9 L78.9,274.5 L79.3,275.1 L79.8,275.7 L80.2,276.2 L80.7,276.8 L81.1,277.4 L81.6,278.0 L82.0,278.5 L82.5,279.1 L83.0,279.7 L83.4,280.2 L83.9,280.8 L84.3,281.3 L84.8,281.8 L85.2,282.4 L85.7,282.9 L86.1,283.4 L86.6,283.9 L87.0,284.5 L87.5,285.0 L87.9,285.5 L88.4,286.0 L88.9,286.5 L89.3,287.0 L89.8,287.5 L90.2,288.0 L90.7,288.4 L92.5,290.4 L96.1,294.0 L99.7,297.4 L103.4,300.6 L107.0,303.6 L110.6,306.4 L114.3,309.1 L117.9,311.6 L121.5,314.0 L125.1,316.2 L128.8,318.3 L132.4,320.3 L136.0,322.2 L139.7,323.9 L143.3,325.6 L146.9,327.2 L150.5,328.7 L154.2,330.2 L157.8,331.5 L161.4,332.8 L165.1,334.0 L168.7,335.2 L172.3,336.3 L175.9,337.4 L179.6,338.4 L183.2,339.4 L186.8,340.3 L190.5,341.2 L194.1,342.0 L197.7,342.9 L201.3,343.6 L205.0,344.4 L208.6,345.1 L212.2,345.8 L215.9,346.5 L219.5,347.1 L223.1,347.8 L226.7,348.4 L230.4,348.9 L234.0,349.5 L237.6,350.0 L241.3,350.6 L244.9,351.1 L248.5,351.6 L252.1,352.0 L255.8,352.5 L259.4,353.0 L263.0,353.4 L266.7,353.8 L270.3,354.2 L273.9,354.6 L277.5,355.0 L281.2,355.4 L284.8,355.8 L288.4,356.2 L292.1,356.5 L295.7,356.9 L299.3,357.2 L302.9,357.6 L306.6,357.9 L310.2,358.2 L313.8,358.5 L317.5,358.8 L321.1,359.1 L324.7,359.4 L328.3,359.7 L332.0,360.0 L335.6,360.3" fill="none" stroke="#FF8C0F" stroke-width="2.1" stroke-linejoin="round"/>
<path d="M63.5,276.6 L63.9,281.0 L64.4,285.2 L64.8,289.1 L65.3,292.9 L65.7,296.5 L66.2,300.0 L66.6,303.2 L67.1,306.3 L67.5,309.3 L68.0,312.1 L68.4,314.9 L68.9,317.4 L69.3,319.9 L69.8,322.3 L70.3,324.5 L70.7,326.7 L71.2,328.8 L71.6,330.8 L72.1,332.7 L72.5,334.5 L73.0,336.2 L73.4,337.9 L73.9,339.5 L74.3,341.1 L74.8,342.6 L75.2,344.0 L75.7,345.4 L76.2,346.7 L76.6,348.0 L77.1,349.2 L77.5,350.4 L78.0,351.6 L78.4,352.7 L78.9,353.8 L79.3,354.8 L79.8,355.8 L80.2,356.8 L80.7,357.7 L81.1,358.6 L81.6,359.5 L82.0,360.3 L82.5,361.2 L83.0,362.0 L83.4,362.8 L83.9,363.5 L84.3,364.3 L84.8,365.0 L85.2,365.7 L85.7,366.3 L86.1,367.0 L86.6,367.6 L87.0,368.3 L87.5,368.9 L87.9,369.5 L88.4,370.1 L88.9,370.6 L89.3,371.2 L89.8,371.7 L90.2,372.2 L90.7,372.8 L92.5,374.7 L96.1,378.1 L99.7,381.0 L103.4,383.6 L107.0,385.8 L110.6,387.7 L114.3,389.4 L117.9,390.9 L121.5,392.2 L125.1,393.4 L128.8,394.4 L132.4,395.3 L136.0,396.1 L139.7,396.9 L143.3,397.5 L146.9,398.1 L150.5,398.6 L154.2,399.0 L157.8,399.4 L161.4,399.8 L165.1,400.1 L168.7,400.4 L172.3,400.7 L175.9,400.9 L179.6,401.1 L183.2,401.3 L186.8,401.4 L190.5,401.6 L194.1,401.7 L197.7,401.8 L201.3,401.9 L205.0,402.0 L208.6,402.0 L212.2,402.1 L215.9,402.2 L219.5,402.2 L223.1,402.3 L226.7,402.3 L230.4,402.4 L234.0,402.4 L237.6,402.4 L241.3,402.5 L244.9,402.5 L248.5,402.5 L252.1,402.5 L255.8,402.5 L259.4,402.5 L263.0,402.6 L266.7,402.6 L270.3,402.6 L273.9,402.6 L277.5,402.6 L281.2,402.6 L284.8,402.6 L288.4,402.6 L292.1,402.6 L295.7,402.6 L299.3,402.6 L302.9,402.6 L306.6,402.6 L310.2,402.6 L313.8,402.6 L317.5,402.6 L321.1,402.6 L324.7,402.7 L328.3,402.7 L332.0,402.7 L335.6,402.7" fill="none" stroke="#E01414" stroke-width="2.1" stroke-linejoin="round"/>
</g>
<rect x="63.45" y="250.4" width="272.15" height="173.3" fill="none" stroke="#262626" stroke-width="1.1"/>
<path d="M72.52,423.7L72.52,419.5 M81.59,423.7L81.59,419.5 M90.67,423.7L90.67,419.5 M99.74,423.7L99.74,419.5 M108.81,423.7L108.81,415.4 M117.88,423.7L117.88,419.5 M126.95,423.7L126.95,419.5 M136.02,423.7L136.02,419.5 M145.1,423.7L145.1,419.5 M154.17,423.7L154.17,415.4 M163.24,423.7L163.24,419.5 M172.31,423.7L172.31,419.5 M181.38,423.7L181.38,419.5 M190.45,423.7L190.45,419.5 M199.53,423.7L199.53,415.4 M208.6,423.7L208.6,419.5 M217.67,423.7L217.67,419.5 M226.74,423.7L226.74,419.5 M235.81,423.7L235.81,419.5 M244.88,423.7L244.88,415.4 M253.96,423.7L253.96,419.5 M263.03,423.7L263.03,419.5 M272.1,423.7L272.1,419.5 M281.17,423.7L281.17,419.5 M290.24,423.7L290.24,415.4 M299.31,423.7L299.31,419.5 M308.39,423.7L308.39,419.5 M317.46,423.7L317.46,419.5 M326.53,423.7L326.53,419.5 M63.45,419.11L67.65,419.11 M63.45,410.46L67.65,410.46 M63.45,401.8L71.95,401.8 M63.45,393.15L67.65,393.15 M63.45,384.5L67.65,384.5 M63.45,375.84L67.65,375.84 M63.45,367.19L67.65,367.19 M63.45,358.53L71.95,358.53 M63.45,349.88L67.65,349.88 M63.45,341.23L67.65,341.23 M63.45,332.57L67.65,332.57 M63.45,323.92L67.65,323.92 M63.45,315.26L71.95,315.26 M63.45,306.61L67.65,306.61 M63.45,297.96L67.65,297.96 M63.45,289.3L67.65,289.3 M63.45,280.65L67.65,280.65 M63.45,272L71.95,272 M63.45,263.34L67.65,263.34 M63.45,254.69L67.65,254.69" stroke="#262626" stroke-width="1.0" fill="none"/>
<text transform="translate(51.02,406.9) scale(1.099,1)" style="font-size:14.2px;fill:#262626">2</text>
<text transform="translate(51.24,363.63) scale(1.053,1)" style="font-size:14.2px;fill:#262626">3</text>
<text transform="translate(51.48,320.37) scale(0.990,1)" style="font-size:14.2px;fill:#262626">4</text>
<text transform="translate(51.2,277.1) scale(1.053,1)" style="font-size:14.2px;fill:#262626">5</text>
<text transform="translate(59.41,441.8) scale(1.025,1)" style="font-size:14.3px;fill:#262626">0</text>
<text transform="translate(97.15,441.8) scale(0.981,1)" style="font-size:14.3px;fill:#262626">500</text>
<text transform="translate(138.31,441.8) scale(0.984,1)" style="font-size:14.3px;fill:#262626">1000</text>
<text transform="translate(183.67,441.8) scale(0.984,1)" style="font-size:14.3px;fill:#262626">1500</text>
<text transform="translate(229.39,441.8) scale(0.973,1)" style="font-size:14.3px;fill:#262626">2000</text>
<text transform="translate(274.75,441.8) scale(0.973,1)" style="font-size:14.3px;fill:#262626">2500</text>
<text transform="translate(320.28,441.8) scale(0.967,1)" style="font-size:14.3px;fill:#262626">3000</text>
<text transform="translate(63.9,249.2) scale(1.015,1)" style="font-size:15.5px;fill:#262626">×</text>
<text transform="translate(73.85,247.4) scale(0.975,1)" style="font-size:14.4px;fill:#262626">10</text>
<text transform="translate(89.11,241) scale(0.971,1)" style="font-size:11.2px;fill:#262626">-3</text>
<text transform="translate(172.26,460.8) scale(0.964,1)" style="font-size:15.8px;fill:#262626">Time (s)</text>
<text transform="translate(46.2,413.83) rotate(-90) scale(1.030,1)" style="font-size:14.5px;fill:#262626">Photocurrent (mA/cm</text>
<text transform="translate(38.5,274.16) rotate(-90) scale(1.199,1)" style="font-size:11px;fill:#262626">2</text>
<text transform="translate(46.2,264.7) rotate(-90) scale(0.885,1)" style="font-size:14.5px;fill:#262626">)</text>
<rect x="285.4" y="254.9" width="46.4" height="53" fill="#fff" stroke="#262626" stroke-width="1"/>
<line x1="287" y1="262.1" x2="302.8" y2="262.1" stroke="#1414C4" stroke-width="1.7"/>
<text transform="translate(303.5,266.4) scale(0.950,1)" style="font-size:10.5px;fill:#000;stroke:#000;stroke-width:0.2">21</text>
<text transform="translate(318.29,266.4) scale(0.966,1)" style="font-size:10.5px;fill:#000;stroke:#000;stroke-width:0.2">°C</text>
<line x1="287" y1="275.05" x2="302.8" y2="275.05" stroke="#1E9CF2" stroke-width="1.7"/>
<text transform="translate(303.5,279.35) scale(0.945,1)" style="font-size:10.5px;fill:#000;stroke:#000;stroke-width:0.2">28</text>
<text transform="translate(318.29,279.35) scale(0.966,1)" style="font-size:10.5px;fill:#000;stroke:#000;stroke-width:0.2">°C</text>
<line x1="287" y1="288" x2="302.8" y2="288" stroke="#FF8C0F" stroke-width="1.7"/>
<text transform="translate(303.63,292.3) scale(0.934,1)" style="font-size:10.5px;fill:#000;stroke:#000;stroke-width:0.2">38</text>
<text transform="translate(318.29,292.3) scale(0.966,1)" style="font-size:10.5px;fill:#000;stroke:#000;stroke-width:0.2">°C</text>
<line x1="287" y1="300.95" x2="302.8" y2="300.95" stroke="#E01414" stroke-width="1.7"/>
<text transform="translate(303.61,305.25) scale(0.932,1)" style="font-size:10.5px;fill:#000;stroke:#000;stroke-width:0.2">50</text>
<text transform="translate(318.29,305.25) scale(0.966,1)" style="font-size:10.5px;fill:#000;stroke:#000;stroke-width:0.2">°C</text>
<text transform="translate(1.68,238.7) scale(1.028,1)" style="font-size:39.5px;font-weight:bold;fill:#000">c</text>
<g clip-path="url(#clipd)">
<line x1="415.3" y1="252.6" x2="683.5" y2="426.2" stroke="#0072BD" stroke-width="1.5"/>
</g>
<rect x="415.3" y="250.2" width="268.45" height="178.3" fill="none" stroke="#262626" stroke-width="1.1"/>
<path d="M431.77,428.5L431.77,424.3 M448.24,428.5L448.24,424.3 M464.71,428.5L464.71,424.3 M481.18,428.5L481.18,424.3 M497.65,428.5L497.65,420.2 M514.12,428.5L514.12,424.3 M530.59,428.5L530.59,424.3 M547.06,428.5L547.06,424.3 M563.53,428.5L563.53,424.3 M580,428.5L580,420.2 M596.47,428.5L596.47,424.3 M612.94,428.5L612.94,424.3 M629.41,428.5L629.41,424.3 M645.88,428.5L645.88,424.3 M662.35,428.5L662.35,420.2 M678.82,428.5L678.82,424.3 M415.3,418.93L419.5,418.93 M415.3,410.74L419.5,410.74 M415.3,404.05L419.5,404.05 M415.3,398.39L419.5,398.39 M415.3,393.49L419.5,393.49 M415.3,389.17L419.5,389.17 M415.3,385.3L423.8,385.3 M415.3,359.86L419.5,359.86 M415.3,344.98L419.5,344.98 M415.3,334.43L419.5,334.43 M415.3,326.24L419.5,326.24 M415.3,319.55L419.5,319.55 M415.3,313.89L419.5,313.89 M415.3,308.99L419.5,308.99 M415.3,304.67L419.5,304.67 M415.3,300.8L423.8,300.8 M415.3,275.36L419.5,275.36 M415.3,260.48L419.5,260.48" stroke="#262626" stroke-width="1.0" fill="none"/>
<circle cx="427.9" cy="260.7" r="3.7" fill="#77AC30" stroke="#3a4a20" stroke-width="0.5"/>
<circle cx="510.5" cy="314.8" r="3.7" fill="#77AC30" stroke="#3a4a20" stroke-width="0.5"/>
<circle cx="598.6" cy="370.9" r="3.7" fill="#77AC30" stroke="#3a4a20" stroke-width="0.5"/>
<circle cx="664.1" cy="414.7" r="3.7" fill="#77AC30" stroke="#3a4a20" stroke-width="0.5"/>
<text transform="translate(406.18,446.7) scale(0.936,1)" style="font-size:14.9px;fill:#262626">3.1</text>
<text transform="translate(488.53,446.7) scale(0.938,1)" style="font-size:14.9px;fill:#262626">3.2</text>
<text transform="translate(570.88,446.7) scale(0.932,1)" style="font-size:14.9px;fill:#262626">3.3</text>
<text transform="translate(653.23,446.7) scale(0.922,1)" style="font-size:14.9px;fill:#262626">3.4</text>
<text transform="translate(386.06,308.5) scale(0.935,1)" style="font-size:14.8px;fill:#262626">10</text>
<text transform="translate(401.4,301.8) scale(1.019,1)" style="font-size:10.8px;fill:#262626">-3</text>
<text transform="translate(386.06,392.7) scale(0.935,1)" style="font-size:14.8px;fill:#262626">10</text>
<text transform="translate(401.41,385.7) scale(1.011,1)" style="font-size:10.8px;fill:#262626">-4</text>
<text transform="translate(648,469.5) scale(1.015,1)" style="font-size:15.5px;fill:#262626">×</text>
<text transform="translate(657.98,468.2) scale(0.914,1)" style="font-size:14.8px;fill:#262626">10</text>
<text transform="translate(673.07,461.5) scale(1.031,1)" style="font-size:11.4px;fill:#262626">-3</text>
<text transform="translate(480.84,465.8) scale(0.989,1)" style="font-size:15.6px;fill:#262626">1/Temperature (1/K)</text>
<text transform="translate(373.8,418.66) rotate(-90) scale(1.018,1)" style="font-size:15px;fill:#262626">Recovery rate</text>
<text transform="translate(373.9,319.95) rotate(-90) scale(0.957,1)" style="font-size:15px;font-style:italic;fill:#262626">k</text>
<text transform="translate(381.9,311.9) rotate(-90) scale(1.028,1)" style="font-size:12px;fill:#262626">rec</text>
<text transform="translate(373.8,290.81) rotate(-90) scale(1.072,1)" style="font-size:15px;fill:#262626">(1/s)</text>
<rect x="478" y="254.7" width="200.9" height="22.6" fill="#fff" stroke="#262626" stroke-width="1"/>
<line x1="479.5" y1="265.6" x2="496" y2="265.6" stroke="#0072BD" stroke-width="1.5"/>
<text transform="translate(503.5,269) scale(1.075,1)" style="font-size:12.5px;font-style:italic;fill:#000">E</text>
<text transform="translate(511.76,274.8) scale(1.003,1)" style="font-size:10.2px;fill:#000">Barrier</text>
<text transform="translate(545.3,269.1)" style="font-size:12.5px;fill:#000">= 1.25 eV = 120 kJ/mol</text>
<text transform="translate(371.41,241.7) scale(1.021,1)" style="font-size:39px;font-weight:bold;fill:#000">d</text>
</svg>
</div>
</body></html>
